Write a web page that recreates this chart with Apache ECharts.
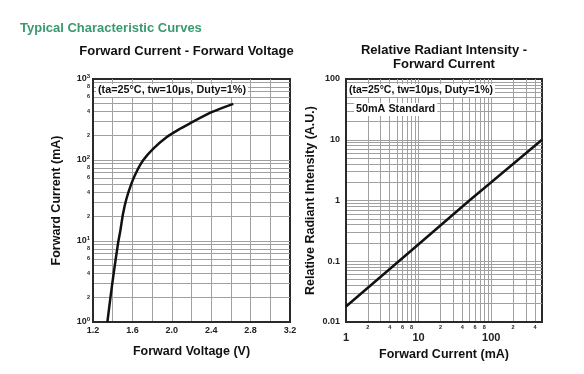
<!DOCTYPE html>
<html>
<head>
<meta charset="utf-8">
<script src="https://cdn.jsdelivr.net/npm/echarts@6/dist/echarts.min.js"></script>
<style>
html,body{margin:0;padding:0;background:#fff;}
#chart{width:584px;height:374px;}
</style>
</head>
<body>
<div id="chart"></div>
<script>
// ---- Left chart: Forward Current vs Forward Voltage ----
const leftVoltage = [1.346, 1.377, 1.41, 1.454, 1.478, 1.505, 1.539, 1.59, 1.641, 1.709, 1.81, 1.946, 2.083, 2.185, 2.404, 2.624];
const leftCurrent = [1, 2, 4, 9.3, 13.5, 21.7, 33, 51, 71, 99, 137, 191, 243, 284, 389, 493];
const leftXGrid = [1.2, 1.4, 1.6, 1.8, 2.0, 2.2, 2.4, 2.6, 2.8, 3.0, 3.2];
const leftXLabels = [1.2, 1.6, 2.0, 2.4, 2.8, 3.2];
const leftYGrid = [1,2,3,4,5,6,7,8,9,10,20,30,40,50,60,70,80,90,100,200,300,400,500,600,700,800,900,1000];
const leftYLabels = [1,2,4,6,8,10,20,40,60,80,100,200,400,600,800,1000];

// ---- Right chart: Relative Radiant Intensity vs Forward Current ----
const rightCurrent = [1, 10, 50, 100, 500];
const rightIntensity = [0.018, 0.19, 1, 2, 10];
const rightXGrid = [1,2,3,4,5,6,7,8,9,10,20,30,40,50,60,70,80,90,100,200,300,400,500];
const rightXLabels = [1,2,4,6,8,10,20,40,60,80,100,200,400];
const rightYGrid = [0.01,0.02,0.03,0.04,0.05,0.06,0.07,0.08,0.09,0.1,0.2,0.3,0.4,0.5,0.6,0.7,0.8,0.9,1,2,3,4,5,6,7,8,9,10,20,30,40,50,60,70,80,90,100];
const rightYLabels = [0.01, 0.1, 1, 10, 100];

const FONT = '"Liberation Sans", Arial, sans-serif';
const lg = v => Math.log10(v);
const findOrig = (arr, val) => arr.find(a => Math.abs(lg(a) - val) < 1e-6);
const isDecade = v => Math.abs(lg(v) - Math.round(lg(v))) < 1e-9;
const mantissa = v => Math.round(v / Math.pow(10, Math.floor(lg(v) + 1e-9)));

const gridLine = {show: true, showMinLine: false, showMaxLine: false, lineStyle: {color: '#a0a0a0', width: 1}};
const axisLine = {show: true, onZero: false, lineStyle: {color: '#2a2a2a', width: 2}};
const nameStyle = {fontFamily: FONT, fontWeight: 'bold', fontSize: 12.5, color: '#111'};

const chart = echarts.init(document.getElementById('chart'), null, {renderer: 'canvas'});
chart.setOption({
  animation: false,
  backgroundColor: '#fff',
  title: [
    {text: 'Typical Characteristic Curves', left: 20, top: 22, padding: 0,
     textStyle: {fontFamily: FONT, fontSize: 13, fontWeight: 'bold', color: '#3a9a6e'}},
    {text: 'Forward Current - Forward Voltage', left: 186.5, textAlign: 'center', top: 45, padding: 0,
     textStyle: {fontFamily: FONT, fontSize: 13, fontWeight: 'bold', color: '#111'}},
    {text: 'Relative Radiant Intensity -\nForward Current', left: 444, textAlign: 'center', top: 44, padding: 0,
     textStyle: {fontFamily: FONT, fontSize: 13, fontWeight: 'bold', color: '#111', lineHeight: 13.5}},
    {text: '(ta=25°C, tw=10μs, Duty=1%)', left: 96, top: 84, padding: [1, 2], backgroundColor: '#fff', z: 10,
     textStyle: {fontFamily: FONT, fontSize: 10.8, fontWeight: 'bold', color: '#111'}},
    {text: '(ta=25°C, tw=10μs, Duty=1%)', left: 347, top: 84, padding: [1, 2], backgroundColor: '#fff', z: 10,
     textStyle: {fontFamily: FONT, fontSize: 10.5, fontWeight: 'bold', color: '#111'}},
    {text: '50mA Standard', left: 354, top: 103, padding: [1, 2], backgroundColor: '#fff', z: 10,
     textStyle: {fontFamily: FONT, fontSize: 10.8, fontWeight: 'bold', color: '#111'}}
  ],
  grid: [
    {left: 93, top: 79, width: 197, height: 243, show: true, borderColor: '#2a2a2a', borderWidth: 2, backgroundColor: 'transparent'},
    {left: 346, top: 79, width: 196, height: 243, show: true, borderColor: '#2a2a2a', borderWidth: 2, backgroundColor: 'transparent'}
  ],
  xAxis: [
    {type: 'value', gridIndex: 0, min: 1.2, max: 3.2,
     name: 'Forward Voltage (V)', nameLocation: 'middle', nameGap: 23, nameTextStyle: nameStyle,
     axisLine: axisLine, axisTick: {show: false, customValues: leftXGrid},
     splitLine: gridLine,
     axisLabel: {customValues: leftXLabels, margin: 4, fontFamily: FONT, fontSize: 9, fontWeight: 'bold', color: '#222',
                 formatter: v => v.toFixed(1)}},
    {type: 'value', gridIndex: 1, min: 0, max: lg(500),
     name: 'Forward Current (mA)', nameLocation: 'middle', nameGap: 23, nameTextStyle: nameStyle,
     axisLine: axisLine, axisTick: {show: false, customValues: rightXGrid.map(lg)},
     splitLine: gridLine,
     axisLabel: {customValues: rightXLabels.map(lg), margin: 2, fontFamily: FONT, color: '#222',
                 formatter: val => {
                   const o = findOrig(rightXLabels, val);
                   return isDecade(o) ? '{big|' + o + '}' : '{sm|' + mantissa(o) + '}';
                 },
                 rich: {
                   big: {fontFamily: FONT, fontSize: 11, fontWeight: 'bold', color: '#222', padding: [8, 0, 0, 0]},
                   sm: {fontFamily: FONT, fontSize: 5.5, fontWeight: 'bold', color: '#222'}
                 }}}
  ],
  yAxis: [
    {type: 'value', gridIndex: 0, min: 0, max: 3,
     name: 'Forward Current (mA)', nameLocation: 'middle', nameGap: 30, nameRotate: 90, nameTextStyle: nameStyle,
     axisLine: axisLine, axisTick: {show: false, customValues: leftYGrid.map(lg)},
     splitLine: gridLine,
     axisLabel: {customValues: leftYLabels.map(lg), margin: 3, color: '#222',
                 formatter: val => {
                   const o = findOrig(leftYLabels, val);
                   return isDecade(o) ? '{b|10}{s|' + Math.round(lg(o)) + '}' : '{m|' + mantissa(o) + '}';
                 },
                 rich: {
                   b: {fontFamily: FONT, fontSize: 9, fontWeight: 'bold', color: '#222', lineHeight: 11},
                   s: {fontFamily: FONT, fontSize: 6, fontWeight: 'bold', color: '#222', lineHeight: 6, verticalAlign: 'top'},
                   m: {fontFamily: FONT, fontSize: 5.5, fontWeight: 'bold', color: '#222'}
                 }}},
    {type: 'value', gridIndex: 1, min: -2, max: 2,
     name: 'Relative Radiant Intensity (A.U.)', nameLocation: 'middle', nameGap: 29, nameRotate: 90, nameTextStyle: nameStyle,
     axisLine: axisLine, axisTick: {show: false, customValues: rightYGrid.map(lg)},
     splitLine: gridLine,
     axisLabel: {customValues: rightYLabels.map(lg), margin: 6, fontFamily: FONT, fontSize: 9, fontWeight: 'bold', color: '#222',
                 formatter: val => String(findOrig(rightYLabels, val))}}
  ],
  series: [
    {type: 'line', xAxisIndex: 0, yAxisIndex: 0, symbol: 'none', smooth: 0.25, z: 5,
     lineStyle: {color: '#111', width: 2.5},
     data: leftVoltage.map((v, i) => [v, lg(leftCurrent[i])])},
    {type: 'line', xAxisIndex: 1, yAxisIndex: 1, symbol: 'none', z: 5,
     lineStyle: {color: '#111', width: 2.5},
     data: rightCurrent.map((c, i) => [lg(c), lg(rightIntensity[i])])}
  ]
});
</script>
</body>
</html>
